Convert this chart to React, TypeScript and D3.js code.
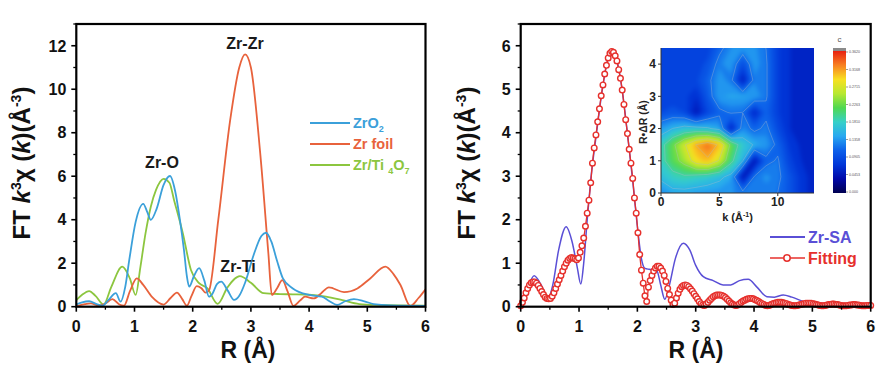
import React from "react";
import * as d3 from "d3";

// ---- left panel: FT of k3-weighted EXAFS for references ----
const zrO2: [number, number][] = [
  [0, 0.1], [0.1, 0.2], [0.22, 0.25], [0.35, 0.12], [0.45, 0.05], [0.55, 0.3], [0.68, 0.62],
  [0.76, 0.23], [0.84, 0.9], [0.91, 2.15], [1.02, 3.9], [1.15, 4.73], [1.22, 4.35], [1.28, 3.99],
  [1.38, 4.5], [1.5, 5.6], [1.61, 6.01], [1.7, 5.3], [1.78, 4.0], [1.85, 2.6], [1.9, 1.4],
  [1.94, 0.92], [2.02, 1.4], [2.11, 1.77], [2.2, 1.2], [2.28, 0.46], [2.34, 0.6], [2.42, 1.05],
  [2.49, 1.15], [2.6, 0.75], [2.71, 0.31], [2.8, 0.5], [2.9, 1.1], [3.05, 2.4], [3.18, 3.25],
  [3.26, 3.4], [3.35, 3.0], [3.45, 2.1], [3.55, 1.3], [3.72, 0.84], [4.0, 0.54], [4.22, 0.46],
  [4.35, 0.25], [4.48, 0.08], [4.62, 0.25], [4.77, 0.35], [4.95, 0.25], [5.11, 0.12], [5.4, 0.06],
  [6, 0.04],
];

const zrFoil: [number, number][] = [
  [0, 0.02], [0.15, 0.12], [0.25, 0.15], [0.38, 0.05], [0.5, 0.15], [0.62, 0.35], [0.74, 0.1],
  [0.82, 0.05], [0.92, 0.7], [1.04, 1.3], [1.15, 1.0], [1.3, 0.45], [1.5, 0.1], [1.62, 0.4],
  [1.73, 0.65], [1.82, 0.35], [1.9, 0.05], [1.98, 0.5], [2.07, 0.95], [2.15, 0.85], [2.22, 0.65],
  [2.28, 0.75], [2.44, 4.0], [2.645, 8.6], [2.8, 11.0], [2.9, 11.6], [3.0, 11.0], [3.16, 7.06],
  [3.3, 2.46], [3.36, 0.54], [3.45, 0.85], [3.54, 1.22], [3.63, 0.7], [3.73, 0.04], [3.85, 0.3],
  [3.93, 0.46], [4.08, 0.38], [4.2, 0.6], [4.34, 0.89], [4.6, 0.67], [4.83, 0.84], [5.05, 1.3],
  [5.31, 1.84], [5.45, 1.5], [5.57, 1.0], [5.74, 0.03], [5.88, 0.4], [6, 0.8],
];

const zrTi4O7: [number, number][] = [
  [0, 0.3], [0.1, 0.55], [0.22, 0.72], [0.33, 0.5], [0.47, 0.1], [0.6, 0.9], [0.79, 1.84],
  [0.92, 1.3], [1.02, 0.54], [1.1, 1.8], [1.19, 3.38], [1.28, 4.6], [1.37, 5.37], [1.5, 5.88],
  [1.6, 5.7], [1.68, 4.9], [1.83, 3.38], [1.97, 1.69], [2.11, 1.08], [2.25, 0.85], [2.43, 0.13],
  [2.6, 0.9], [2.81, 1.41], [3.0, 1.1], [3.22, 0.62], [3.5, 0.58], [3.72, 0.57], [4.0, 0.55],
  [4.29, 0.46], [4.57, 0.3], [4.86, 0.12], [5.2, 0.08], [6, 0.05],
];

// ---- right panel: Zr-SA sample and its fit ----
const zrSA: [number, number][] = [
  [0, 0.0], [0.1, 0.35], [0.23, 0.71], [0.35, 0.5], [0.47, 0.19], [0.55, 0.5], [0.65, 1.3],
  [0.78, 1.84], [0.88, 1.5], [0.97, 0.9], [1.03, 0.52], [1.08, 1.0], [1.14, 2.0], [1.2, 2.9],
  [1.3, 4.0], [1.4, 5.0], [1.47, 5.55], [1.56, 5.87], [1.65, 5.65], [1.74, 4.98], [1.83, 3.98],
  [1.92, 2.9], [2.0, 1.85], [2.07, 1.1], [2.13, 0.88], [2.2, 0.86], [2.33, 0.84], [2.4, 0.5],
  [2.47, 0.17], [2.55, 0.5], [2.65, 1.1], [2.79, 1.46], [2.9, 1.3], [3.0, 0.95], [3.13, 0.69],
  [3.3, 0.6], [3.47, 0.5], [3.6, 0.5], [3.75, 0.6], [3.9, 0.63], [4.05, 0.45], [4.22, 0.23],
  [4.35, 0.22], [4.5, 0.27], [4.65, 0.22], [4.85, 0.12], [5.1, 0.08], [5.5, 0.07], [6, 0.06],
];

// fit values on a regular R grid, 0.03 Å apart, starting at 0
const fitStep = 0.03;
const fitY = [
  0.02, 0.1, 0.2, 0.32, 0.42, 0.5, 0.55, 0.57, 0.57, 0.54, 0.49, 0.42, 0.35, 0.28, 0.22, 0.19,
  0.18, 0.19, 0.24, 0.32, 0.42, 0.52, 0.62, 0.72, 0.82, 0.92, 1.0, 1.07, 1.11, 1.13, 1.12, 1.1,
  1.08, 1.12, 1.25, 1.4, 1.58, 1.85, 2.15, 2.45, 2.85, 3.3, 3.65, 3.95, 4.25, 4.55, 4.85, 5.1,
  5.35, 5.55, 5.72, 5.83, 5.87, 5.85, 5.77, 5.65, 5.45, 5.25, 4.98, 4.65, 4.3, 3.98, 3.62, 3.3,
  2.95, 2.5, 2.15, 1.7, 1.2, 0.84, 0.54, 0.25, 0.12, 0.45, 0.6, 0.72, 0.82, 0.89, 0.93, 0.93,
  0.89, 0.82, 0.72, 0.58, 0.42, 0.28, 0.15, 0.05, 0.08, 0.2, 0.31, 0.4, 0.46, 0.49, 0.5, 0.49,
  0.46, 0.41, 0.36, 0.3, 0.24, 0.18, 0.12, 0.07, 0.04, 0.03, 0.06, 0.1, 0.15, 0.19, 0.23, 0.25,
  0.27, 0.27, 0.27, 0.26, 0.24, 0.21, 0.17, 0.13, 0.09, 0.06, 0.04, 0.03, 0.04, 0.07, 0.1, 0.13,
  0.15, 0.17, 0.18, 0.19, 0.19, 0.18, 0.16, 0.14, 0.12, 0.09, 0.07, 0.05, 0.03, 0.02, 0.03, 0.05,
  0.07, 0.08, 0.09, 0.1, 0.1, 0.1, 0.09, 0.08, 0.07, 0.05, 0.04, 0.03, 0.02, 0.02, 0.03, 0.04,
  0.05, 0.06, 0.07, 0.08, 0.08, 0.08, 0.08, 0.07, 0.06, 0.05, 0.04, 0.03, 0.02, 0.02, 0.03, 0.04,
  0.05, 0.05, 0.06, 0.06, 0.05, 0.05, 0.04, 0.03, 0.02, 0.02, 0.02, 0.03, 0.04, 0.04, 0.05, 0.05,
  0.04, 0.04, 0.03, 0.02, 0.02, 0.02, 0.03, 0.03, 0.03,
];

// wavelet transform intensity (normalised), rows from R = 4.5 down to R = 0 (step 0.5), k = 0..13
const heatRows = [
  [0.22, 0.22, 0.22, 0.22, 0.23, 0.3, 0.36, 0.37, 0.37, 0.32, 0.22, 0.18, 0.16, 0.15],
  [0.22, 0.22, 0.22, 0.23, 0.26, 0.35, 0.38, 0.25, 0.38, 0.33, 0.22, 0.18, 0.16, 0.15],
  [0.22, 0.22, 0.22, 0.24, 0.3, 0.38, 0.34, 0.14, 0.35, 0.33, 0.22, 0.18, 0.16, 0.15],
  [0.22, 0.22, 0.23, 0.18, 0.28, 0.39, 0.4, 0.4, 0.39, 0.33, 0.22, 0.18, 0.16, 0.15],
  [0.25, 0.27, 0.25, 0.13, 0.24, 0.3, 0.33, 0.32, 0.16, 0.3, 0.22, 0.18, 0.16, 0.15],
  [0.38, 0.43, 0.46, 0.46, 0.44, 0.4, 0.15, 0.36, 0.3, 0.34, 0.25, 0.18, 0.16, 0.15],
  [0.5, 0.62, 0.74, 0.86, 0.92, 0.84, 0.62, 0.48, 0.42, 0.38, 0.3, 0.21, 0.17, 0.15],
  [0.5, 0.6, 0.68, 0.8, 0.84, 0.74, 0.56, 0.43, 0.12, 0.3, 0.33, 0.23, 0.18, 0.15],
  [0.45, 0.5, 0.52, 0.5, 0.48, 0.45, 0.4, 0.12, 0.33, 0.37, 0.34, 0.27, 0.2, 0.16],
  [0.36, 0.4, 0.4, 0.39, 0.38, 0.37, 0.36, 0.35, 0.35, 0.34, 0.32, 0.27, 0.2, 0.16],
];
const heatTopR = 4.5;
const heatStepR = 0.5;
const heatStepK = 1;

const jetStops = [
  "#000050", "#0008a8", "#0036d8", "#0c60ea", "#28a8f0", "#36d0c8",
  "#50d850", "#b8e830", "#f8e020", "#f88020", "#e82010",
];
const colorbarTicks = ["0.000", "0.0453", "0.0905", "0.1358", "0.1810", "0.2263", "0.2715", "0.3168", "0.3620"];

const xTicks = [0, 1, 2, 3, 4, 5, 6];
const xMinor = [0.5, 1.5, 2.5, 3.5, 4.5, 5.5];
const leftYTicks = [0, 2, 4, 6, 8, 10, 12];
const leftYMinor = [1, 3, 5, 7, 9, 11, 13];
const rightYTicks = [0, 1, 2, 3, 4, 5, 6];
const rightYMinor = [0.5, 1.5, 2.5, 3.5, 4.5, 5.5, 6.5];
const kTicks = [0, 5, 10];
const rTicks = [0, 1, 2, 3, 4];

const FONT = "'Liberation Sans', Arial, Helvetica, sans-serif";
const BLUE = "#3ba0da";
const ORANGE = "#e8623c";
const GREEN = "#8cc63f";
const PURPLE = "#5a4fd6";
const RED = "#e6302c";

type Scale = d3.ScaleLinear<number, number>;

function Frame({ x, y, yMajor, yMinor }: { x: Scale; y: Scale; yMajor: number[]; yMinor: number[] }) {
  const [x0, x1] = x.range();
  const [y0, y1] = y.range();
  return (
    <g fontFamily={FONT} fontWeight="bold" fontSize={16} fill="#111">
      {yMajor.map((v) => (
        <line key={"ya" + v} x1={x0 - 5} x2={x0} y1={y(v)} y2={y(v)} stroke="#000" strokeWidth={1.6} />
      ))}
      {yMinor.map((v) => (
        <line key={"yi" + v} x1={x0 - 3} x2={x0} y1={y(v)} y2={y(v)} stroke="#000" strokeWidth={1.3} />
      ))}
      {xTicks.map((v) => (
        <line key={"xa" + v} x1={x(v)} x2={x(v)} y1={y0} y2={y0 + 5} stroke="#000" strokeWidth={1.6} />
      ))}
      {xMinor.map((v) => (
        <line key={"xi" + v} x1={x(v)} x2={x(v)} y1={y0} y2={y0 + 3} stroke="#000" strokeWidth={1.3} />
      ))}
      {yMajor.map((v) => (
        <text key={"yl" + v} x={x0 - 10} y={y(v)} dy="0.36em" textAnchor="end">
          {v}
        </text>
      ))}
      {xTicks.map((v) => (
        <text key={"xl" + v} x={x(v)} y={332} textAnchor="middle">
          {v}
        </text>
      ))}
      <rect x={x0} y={y1} width={x1 - x0} height={y0 - y1} fill="none" stroke="#000" strokeWidth={2.2} />
    </g>
  );
}

function YTitle({ cx, cy }: { cx: number; cy: number }) {
  return (
    <text
      transform={`translate(${cx},${cy}) rotate(-90)`}
      textAnchor="middle"
      fontFamily={FONT}
      fontWeight="bold"
      fontSize={24}
      fill="#111"
    >
      FT <tspan fontStyle="italic">k</tspan>
      <tspan dy={-9} fontSize={14}>3</tspan>
      <tspan dy={9}>χ (</tspan>
      <tspan fontStyle="italic">k</tspan>
      <tspan>)(Å</tspan>
      <tspan dy={-9} fontSize={14}>-3</tspan>
      <tspan dy={9}>)</tspan>
    </text>
  );
}

function XTitle({ cx }: { cx: number }) {
  return (
    <text x={cx} y={358} textAnchor="middle" fontFamily={FONT} fontWeight="bold" fontSize={23} fill="#111">
      R (Å)
    </text>
  );
}

function Inset({ kS, rS }: { kS: Scale; rS: Scale }) {
  const nx = heatRows[0].length;
  const ny = heatRows.length;
  // pad one sample around the grid so contours reach the edges
  const padded: number[] = [];
  for (let r = -1; r <= ny; r++) {
    const row = heatRows[Math.max(0, Math.min(ny - 1, r))];
    for (let c = -1; c <= nx; c++) padded.push(row[Math.max(0, Math.min(nx - 1, c))]);
  }
  const levels = d3.range(0, 1.0001, 1 / 28);
  const contours = d3.contours().size([nx + 2, ny + 2]).thresholds(levels)(padded);
  const color = d3
    .scaleLinear<string>()
    .domain(jetStops.map((_, i) => i / (jetStops.length - 1)))
    .range(jetStops)
    .interpolate(d3.interpolateRgb)
    .clamp(true);

  // grid units -> inset pixels
  const proj = d3.geoTransform({
    point(x: number, y: number) {
      this.stream.point(kS((x - 1.5) * heatStepK), rS(heatTopR - (y - 1.5) * heatStepR));
    },
  });
  const gp = d3.geoPath(proj);

  const [k0, k1] = kS.range();
  const [r0, r1] = rS.range();
  const cbX = 833;
  const cbW = 13;
  const cbTop = 51;
  const cb = d3.scaleLinear().domain([0, colorbarTicks.length - 1]).range([r0 - 1, cbTop + 1]);

  return (
    <g>
      <defs>
        <clipPath id="heatClip">
          <rect x={k0} y={r1} width={k1 - k0} height={r0 - r1} />
        </clipPath>
        <filter id="soft" x="-5%" y="-5%" width="110%" height="110%" colorInterpolationFilters="sRGB">
          <feGaussianBlur stdDeviation={2.2} />
        </filter>
        <filter id="lineSoft" colorInterpolationFilters="sRGB">
          <feGaussianBlur stdDeviation={0.7} />
        </filter>
        <linearGradient id="cbGrad" x1="0" y1="1" x2="0" y2="0">
          {jetStops.map((c, i) => (
            <stop key={i} offset={i / (jetStops.length - 1)} stopColor={c} />
          ))}
        </linearGradient>
      </defs>
      <g clipPath="url(#heatClip)">
        <rect x={k0} y={r1} width={k1 - k0} height={r0 - r1} fill={color(0.22)} />
        <g filter="url(#soft)">
          {contours.map((c, i) => (
            <path key={i} d={gp(c as any) || ""} fill={color(c.value + 0.5 / 28)} />
          ))}
        </g>
        <g filter="url(#lineSoft)">
          {contours
            .filter((_, i) => i % 3 === 0 && i > 6)
            .map((c, i) => (
              <path key={"l" + i} d={gp(c as any) || ""} fill="none" stroke="#b0bccb" strokeOpacity={0.45} strokeWidth={0.8} />
            ))}
        </g>
      </g>
      {/* inset axes */}
      <g fontFamily={FONT} fontWeight="bold" fontSize={12} fill="#222">
        {rTicks.map((v) => (
          <g key={"r" + v}>
            <line x1={k0 - 3} x2={k0} y1={rS(v)} y2={rS(v)} stroke="#333" />
            <text x={k0 - 5} y={rS(v)} dy="0.36em" textAnchor="end">
              {v}
            </text>
          </g>
        ))}
        {kTicks.map((v) => (
          <g key={"k" + v}>
            <line x1={kS(v)} x2={kS(v)} y1={r0} y2={r0 + 3} stroke="#333" />
            <text x={kS(v)} y={r0 + 13} textAnchor="middle">
              {v}
            </text>
          </g>
        ))}
        <line x1={k0} x2={k1} y1={r0} y2={r0} stroke="#333" strokeWidth={1} />
        <line x1={k0} x2={k0} y1={r0} y2={r1} stroke="#333" strokeWidth={1} />
        <text x={(k0 + k1) / 2} y={r0 + 28} textAnchor="middle" fontSize={11}>
          k (Å<tspan dy={-4} fontSize={7}>-1</tspan>
          <tspan dy={4}>)</tspan>
        </text>
        <text transform={`translate(${k0 - 14},${rS(2.2)}) rotate(-90)`} textAnchor="middle" fontSize={10.5}>
          R•ΔR (Å)
        </text>
      </g>
      {/* colour bar */}
      <rect x={cbX} y={48} width={cbW} height={cbTop - 48} fill="#8a8a8a" />
      <rect x={cbX} y={cbTop} width={cbW} height={r0 - cbTop} fill="url(#cbGrad)" />
      <text x={cbX + cbW / 2} y={42} textAnchor="middle" fontFamily={FONT} fontSize={8} fill="#555">
        c
      </text>
      {colorbarTicks.map((t, i) => (
        <g key={t}>
          <line x1={cbX + cbW} x2={cbX + cbW + 2} y1={cb(i)} y2={cb(i)} stroke="#555" strokeWidth={0.6} />
          <text x={cbX + cbW + 3} y={cb(i)} dy="0.35em" fontFamily={FONT} fontSize={3.6} fill="#555">
            {t}
          </text>
        </g>
      ))}
    </g>
  );
}

export default function App() {
  const xL = d3.scaleLinear().domain([0, 6]).range([76.3, 425.5]);
  const yL = d3.scaleLinear().domain([0, 13]).range([306.7, 24]);
  const xR = d3.scaleLinear().domain([0, 6]).range([520.7, 870.7]);
  const yR = d3.scaleLinear().domain([0, 6.5]).range([306.7, 24]);
  const kS = d3.scaleLinear().domain([0, 13.1]).range([661, 814]);
  const rS = d3.scaleLinear().domain([0, 4.5]).range([193, 48]);

  const lineL = d3
    .line<[number, number]>()
    .x((d) => xL(d[0]))
    .y((d) => yL(d[1]))
    .curve(d3.curveMonotoneX);
  const lineR = d3
    .line<[number, number]>()
    .x((d) => xR(d[0]))
    .y((d) => yR(d[1]))
    .curve(d3.curveMonotoneX);
  const fitPts: [number, number][] = fitY.map((v, i) => [i * fitStep, v]);

  return (
    <div style={{ position: "absolute", left: 0, top: 0 }}>
      <svg width={896} height={381} style={{ display: "block" }}>
        <rect width={896} height={381} fill="#fff" />

        {/* left panel */}
        <g clipPath="url(#leftClip)">
          <defs>
            <clipPath id="leftClip">
              <rect x={76} y={24} width={350} height={284} />
            </clipPath>
          </defs>
          <path d={lineL(zrTi4O7) || ""} fill="none" stroke={GREEN} strokeWidth={1.8} />
          <path d={lineL(zrFoil) || ""} fill="none" stroke={ORANGE} strokeWidth={1.8} />
          <path d={lineL(zrO2) || ""} fill="none" stroke={BLUE} strokeWidth={1.8} />
        </g>
        <Frame x={xL} y={yL} yMajor={leftYTicks} yMinor={leftYMinor} />
        <YTitle cx={30} cy={163} />
        <XTitle cx={248} />
        <g fontFamily={FONT} fontWeight="bold" fontSize={16} fill="#1a1a1a" textAnchor="middle">
          <text x={245} y={49}>Zr-Zr</text>
          <text x={162} y={168}>Zr-O</text>
          <text x={238} y={272}>Zr-Ti</text>
        </g>
        <g fontFamily={FONT} fontWeight="bold" fontSize={14.5}>
          <line x1={310} x2={350} y1={123} y2={123} stroke={BLUE} strokeWidth={1.8} />
          <text x={353} y={128} fill={BLUE}>
            ZrO<tspan dy={4} fontSize={9}>2</tspan>
          </text>
          <line x1={310} x2={350} y1={144} y2={144} stroke={ORANGE} strokeWidth={1.8} />
          <text x={353} y={149} fill={ORANGE}>Zr foil</text>
          <line x1={310} x2={350} y1={165} y2={165} stroke={GREEN} strokeWidth={1.8} />
          <text x={353} y={170} fill={GREEN}>
            Zr/Ti <tspan dy={4} fontSize={9}>4</tspan>
            <tspan dy={-4}>O</tspan>
            <tspan dy={4} fontSize={9}>7</tspan>
          </text>
        </g>

        {/* right panel */}
        <path d={lineR(zrSA) || ""} fill="none" stroke={PURPLE} strokeWidth={1.5} />
        <path d={lineR(fitPts) || ""} fill="none" stroke={RED} strokeWidth={1.3} />
        {fitPts.map((d, i) => (
          <circle key={i} cx={xR(d[0])} cy={yR(d[1])} r={2.8} fill="#fff" stroke={RED} strokeWidth={1.4} />
        ))}
        <Frame x={xR} y={yR} yMajor={rightYTicks} yMinor={rightYMinor} />
        <YTitle cx={475} cy={163} />
        <XTitle cx={696} />
        <Inset kS={kS} rS={rS} />
        <g fontFamily={FONT} fontWeight="bold" fontSize={16}>
          <line x1={770} x2={805} y1={237} y2={237} stroke={PURPLE} strokeWidth={1.8} />
          <text x={808} y={243} fill={PURPLE}>Zr-SA</text>
          <line x1={770} x2={805} y1={258} y2={258} stroke={RED} strokeWidth={1.5} />
          <circle cx={787} cy={258} r={3.2} fill="#fff" stroke={RED} strokeWidth={1.5} />
          <text x={808} y={264} fill={RED}>Fitting</text>
        </g>
      </svg>
    </div>
  );
}
